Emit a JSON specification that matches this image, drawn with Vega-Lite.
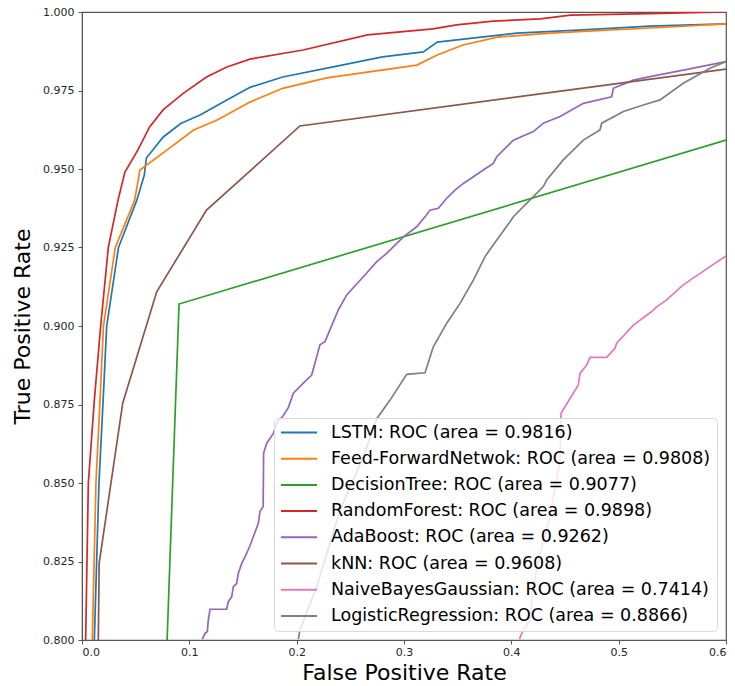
{
  "$schema": "https://vega.github.io/schema/vega-lite/v6.json",
  "autosize": "none",
  "width": 644,
  "height": 628,
  "padding": {"left": 82, "top": 12, "right": 9, "bottom": 46},
  "background": "white",
  "datasets": {
    "names": [
      {"model": "LSTM", "label": "LSTM: ROC (area = 0.9816)"},
      {"model": "FF", "label": "Feed-ForwardNetwok: ROC (area = 0.9808)"},
      {"model": "DT", "label": "DecisionTree: ROC (area = 0.9077)"},
      {"model": "RF", "label": "RandomForest: ROC (area = 0.9898)"},
      {"model": "AB", "label": "AdaBoost: ROC (area = 0.9262)"},
      {"model": "KNN", "label": "kNN: ROC (area = 0.9608)"},
      {"model": "NB", "label": "NaiveBayesGaussian: ROC (area = 0.7414)"},
      {"model": "LR", "label": "LogisticRegression: ROC (area = 0.8866)"}
    ],
    "roc": [
      {"model": "LSTM", "fpr": 0.0115, "tpr": 0.8},
      {"model": "LSTM", "fpr": 0.0158, "tpr": 0.85},
      {"model": "LSTM", "fpr": 0.0197, "tpr": 0.8764},
      {"model": "LSTM", "fpr": 0.023, "tpr": 0.9},
      {"model": "LSTM", "fpr": 0.034, "tpr": 0.925},
      {"model": "LSTM", "fpr": 0.051, "tpr": 0.94},
      {"model": "LSTM", "fpr": 0.058, "tpr": 0.948},
      {"model": "LSTM", "fpr": 0.06, "tpr": 0.9535},
      {"model": "LSTM", "fpr": 0.0757, "tpr": 0.9602},
      {"model": "LSTM", "fpr": 0.092, "tpr": 0.9645},
      {"model": "LSTM", "fpr": 0.11, "tpr": 0.9672},
      {"model": "LSTM", "fpr": 0.135, "tpr": 0.972},
      {"model": "LSTM", "fpr": 0.1565, "tpr": 0.976},
      {"model": "LSTM", "fpr": 0.187, "tpr": 0.9793},
      {"model": "LSTM", "fpr": 0.234, "tpr": 0.9825},
      {"model": "LSTM", "fpr": 0.28, "tpr": 0.9857},
      {"model": "LSTM", "fpr": 0.318, "tpr": 0.9873},
      {"model": "LSTM", "fpr": 0.331, "tpr": 0.9904},
      {"model": "LSTM", "fpr": 0.405, "tpr": 0.9933},
      {"model": "LSTM", "fpr": 0.467, "tpr": 0.9943},
      {"model": "LSTM", "fpr": 0.529, "tpr": 0.9955},
      {"model": "LSTM", "fpr": 0.6, "tpr": 0.9962},
      {"model": "FF", "fpr": 0.0096, "tpr": 0.8},
      {"model": "FF", "fpr": 0.013, "tpr": 0.85},
      {"model": "FF", "fpr": 0.0168, "tpr": 0.8764},
      {"model": "FF", "fpr": 0.02, "tpr": 0.9},
      {"model": "FF", "fpr": 0.031, "tpr": 0.925},
      {"model": "FF", "fpr": 0.049, "tpr": 0.94},
      {"model": "FF", "fpr": 0.054, "tpr": 0.9497},
      {"model": "FF", "fpr": 0.079, "tpr": 0.956},
      {"model": "FF", "fpr": 0.104, "tpr": 0.9624},
      {"model": "FF", "fpr": 0.126, "tpr": 0.9656},
      {"model": "FF", "fpr": 0.1565, "tpr": 0.9713},
      {"model": "FF", "fpr": 0.187, "tpr": 0.9757},
      {"model": "FF", "fpr": 0.228, "tpr": 0.979},
      {"model": "FF", "fpr": 0.312, "tpr": 0.9831},
      {"model": "FF", "fpr": 0.331, "tpr": 0.9863},
      {"model": "FF", "fpr": 0.355, "tpr": 0.9895},
      {"model": "FF", "fpr": 0.387, "tpr": 0.992},
      {"model": "FF", "fpr": 0.436, "tpr": 0.9933},
      {"model": "FF", "fpr": 0.529, "tpr": 0.9949},
      {"model": "FF", "fpr": 0.6, "tpr": 0.9962},
      {"model": "DT", "fpr": 0.0793, "tpr": 0.8},
      {"model": "DT", "fpr": 0.0904, "tpr": 0.907},
      {"model": "DT", "fpr": 0.6, "tpr": 0.9592},
      {"model": "RF", "fpr": 0.0034, "tpr": 0.8},
      {"model": "RF", "fpr": 0.0059, "tpr": 0.85},
      {"model": "RF", "fpr": 0.0115, "tpr": 0.8764},
      {"model": "RF", "fpr": 0.0174, "tpr": 0.9},
      {"model": "RF", "fpr": 0.0245, "tpr": 0.925},
      {"model": "RF", "fpr": 0.0335, "tpr": 0.94},
      {"model": "RF", "fpr": 0.04, "tpr": 0.949},
      {"model": "RF", "fpr": 0.052, "tpr": 0.956},
      {"model": "RF", "fpr": 0.063, "tpr": 0.9634},
      {"model": "RF", "fpr": 0.0755, "tpr": 0.9688},
      {"model": "RF", "fpr": 0.094, "tpr": 0.974},
      {"model": "RF", "fpr": 0.116, "tpr": 0.9793},
      {"model": "RF", "fpr": 0.135, "tpr": 0.9825},
      {"model": "RF", "fpr": 0.1565, "tpr": 0.985},
      {"model": "RF", "fpr": 0.206, "tpr": 0.9879},
      {"model": "RF", "fpr": 0.266, "tpr": 0.9927},
      {"model": "RF", "fpr": 0.327, "tpr": 0.9946},
      {"model": "RF", "fpr": 0.349, "tpr": 0.9959},
      {"model": "RF", "fpr": 0.383, "tpr": 0.9971},
      {"model": "RF", "fpr": 0.427, "tpr": 0.9978},
      {"model": "RF", "fpr": 0.455, "tpr": 0.999},
      {"model": "RF", "fpr": 0.529, "tpr": 0.9995},
      {"model": "RF", "fpr": 0.6, "tpr": 1.0},
      {"model": "AB", "fpr": 0.1121, "tpr": 0.8003},
      {"model": "AB", "fpr": 0.1146, "tpr": 0.8021},
      {"model": "AB", "fpr": 0.1168, "tpr": 0.8027},
      {"model": "AB", "fpr": 0.1177, "tpr": 0.8064},
      {"model": "AB", "fpr": 0.1193, "tpr": 0.8098},
      {"model": "AB", "fpr": 0.1348, "tpr": 0.8098},
      {"model": "AB", "fpr": 0.1363, "tpr": 0.8122},
      {"model": "AB", "fpr": 0.1395, "tpr": 0.8138},
      {"model": "AB", "fpr": 0.141, "tpr": 0.817},
      {"model": "AB", "fpr": 0.1441, "tpr": 0.818},
      {"model": "AB", "fpr": 0.1456, "tpr": 0.8212},
      {"model": "AB", "fpr": 0.1488, "tpr": 0.8244},
      {"model": "AB", "fpr": 0.1519, "tpr": 0.8265},
      {"model": "AB", "fpr": 0.1565, "tpr": 0.83},
      {"model": "AB", "fpr": 0.1596, "tpr": 0.8329},
      {"model": "AB", "fpr": 0.1643, "tpr": 0.8372},
      {"model": "AB", "fpr": 0.1658, "tpr": 0.8409},
      {"model": "AB", "fpr": 0.1688, "tpr": 0.8425},
      {"model": "AB", "fpr": 0.1692, "tpr": 0.8595},
      {"model": "AB", "fpr": 0.172, "tpr": 0.8626},
      {"model": "AB", "fpr": 0.1783, "tpr": 0.8658},
      {"model": "AB", "fpr": 0.1814, "tpr": 0.869},
      {"model": "AB", "fpr": 0.1876, "tpr": 0.8715},
      {"model": "AB", "fpr": 0.1922, "tpr": 0.874},
      {"model": "AB", "fpr": 0.1969, "tpr": 0.8786},
      {"model": "AB", "fpr": 0.2062, "tpr": 0.8818},
      {"model": "AB", "fpr": 0.214, "tpr": 0.8844},
      {"model": "AB", "fpr": 0.2217, "tpr": 0.894},
      {"model": "AB", "fpr": 0.2264, "tpr": 0.895},
      {"model": "AB", "fpr": 0.2342, "tpr": 0.9014},
      {"model": "AB", "fpr": 0.2388, "tpr": 0.9051},
      {"model": "AB", "fpr": 0.2466, "tpr": 0.9099},
      {"model": "AB", "fpr": 0.2621, "tpr": 0.9157},
      {"model": "AB", "fpr": 0.2746, "tpr": 0.9205},
      {"model": "AB", "fpr": 0.2839, "tpr": 0.9231},
      {"model": "AB", "fpr": 0.2994, "tpr": 0.9284},
      {"model": "AB", "fpr": 0.3118, "tpr": 0.9316},
      {"model": "AB", "fpr": 0.3211, "tpr": 0.9354},
      {"model": "AB", "fpr": 0.3242, "tpr": 0.9369},
      {"model": "AB", "fpr": 0.332, "tpr": 0.9375},
      {"model": "AB", "fpr": 0.3398, "tpr": 0.9407},
      {"model": "AB", "fpr": 0.3475, "tpr": 0.9433},
      {"model": "AB", "fpr": 0.3553, "tpr": 0.9454},
      {"model": "AB", "fpr": 0.3739, "tpr": 0.9497},
      {"model": "AB", "fpr": 0.3832, "tpr": 0.9518},
      {"model": "AB", "fpr": 0.3864, "tpr": 0.9539},
      {"model": "AB", "fpr": 0.4019, "tpr": 0.9592},
      {"model": "AB", "fpr": 0.4205, "tpr": 0.9619},
      {"model": "AB", "fpr": 0.4298, "tpr": 0.9646},
      {"model": "AB", "fpr": 0.4454, "tpr": 0.9667},
      {"model": "AB", "fpr": 0.4671, "tpr": 0.9709},
      {"model": "AB", "fpr": 0.4935, "tpr": 0.973},
      {"model": "AB", "fpr": 0.495, "tpr": 0.9757},
      {"model": "AB", "fpr": 0.5137, "tpr": 0.9783},
      {"model": "AB", "fpr": 0.5292, "tpr": 0.9794},
      {"model": "AB", "fpr": 0.5602, "tpr": 0.9815},
      {"model": "AB", "fpr": 0.6, "tpr": 0.9842},
      {"model": "KNN", "fpr": 0.0152, "tpr": 0.8},
      {"model": "KNN", "fpr": 0.016, "tpr": 0.8245},
      {"model": "KNN", "fpr": 0.038, "tpr": 0.8755},
      {"model": "KNN", "fpr": 0.0696, "tpr": 0.9109},
      {"model": "KNN", "fpr": 0.116, "tpr": 0.9369},
      {"model": "KNN", "fpr": 0.203, "tpr": 0.9637},
      {"model": "KNN", "fpr": 0.6, "tpr": 0.9818},
      {"model": "NB", "fpr": 0.4075, "tpr": 0.8003},
      {"model": "NB", "fpr": 0.4097, "tpr": 0.8021},
      {"model": "NB", "fpr": 0.4174, "tpr": 0.8064},
      {"model": "NB", "fpr": 0.4205, "tpr": 0.817},
      {"model": "NB", "fpr": 0.4267, "tpr": 0.8276},
      {"model": "NB", "fpr": 0.436, "tpr": 0.8393},
      {"model": "NB", "fpr": 0.4454, "tpr": 0.8573},
      {"model": "NB", "fpr": 0.4463, "tpr": 0.8722},
      {"model": "NB", "fpr": 0.4624, "tpr": 0.8812},
      {"model": "NB", "fpr": 0.464, "tpr": 0.8849},
      {"model": "NB", "fpr": 0.4702, "tpr": 0.8876},
      {"model": "NB", "fpr": 0.4733, "tpr": 0.89},
      {"model": "NB", "fpr": 0.4888, "tpr": 0.89},
      {"model": "NB", "fpr": 0.4966, "tpr": 0.8929},
      {"model": "NB", "fpr": 0.4981, "tpr": 0.8945},
      {"model": "NB", "fpr": 0.5137, "tpr": 0.9003},
      {"model": "NB", "fpr": 0.5308, "tpr": 0.9046},
      {"model": "NB", "fpr": 0.5354, "tpr": 0.9061},
      {"model": "NB", "fpr": 0.5447, "tpr": 0.9083},
      {"model": "NB", "fpr": 0.5602, "tpr": 0.9131},
      {"model": "NB", "fpr": 0.5851, "tpr": 0.9189},
      {"model": "NB", "fpr": 0.6, "tpr": 0.9223},
      {"model": "LR", "fpr": 0.2016, "tpr": 0.8003},
      {"model": "LR", "fpr": 0.203, "tpr": 0.8032},
      {"model": "LR", "fpr": 0.2187, "tpr": 0.817},
      {"model": "LR", "fpr": 0.2404, "tpr": 0.8414},
      {"model": "LR", "fpr": 0.2621, "tpr": 0.8584},
      {"model": "LR", "fpr": 0.2746, "tpr": 0.8705},
      {"model": "LR", "fpr": 0.287, "tpr": 0.8764},
      {"model": "LR", "fpr": 0.3025, "tpr": 0.8846},
      {"model": "LR", "fpr": 0.3196, "tpr": 0.8851},
      {"model": "LR", "fpr": 0.3273, "tpr": 0.8934},
      {"model": "LR", "fpr": 0.3398, "tpr": 0.9009},
      {"model": "LR", "fpr": 0.3522, "tpr": 0.9072},
      {"model": "LR", "fpr": 0.3646, "tpr": 0.9146},
      {"model": "LR", "fpr": 0.3755, "tpr": 0.9221},
      {"model": "LR", "fpr": 0.3864, "tpr": 0.9274},
      {"model": "LR", "fpr": 0.3988, "tpr": 0.9332},
      {"model": "LR", "fpr": 0.4019, "tpr": 0.9348},
      {"model": "LR", "fpr": 0.4205, "tpr": 0.9412},
      {"model": "LR", "fpr": 0.4298, "tpr": 0.9444},
      {"model": "LR", "fpr": 0.4329, "tpr": 0.9465},
      {"model": "LR", "fpr": 0.4484, "tpr": 0.9529},
      {"model": "LR", "fpr": 0.4671, "tpr": 0.9592},
      {"model": "LR", "fpr": 0.4826, "tpr": 0.9624},
      {"model": "LR", "fpr": 0.4842, "tpr": 0.9646},
      {"model": "LR", "fpr": 0.5044, "tpr": 0.9683},
      {"model": "LR", "fpr": 0.523, "tpr": 0.9704},
      {"model": "LR", "fpr": 0.5385, "tpr": 0.972},
      {"model": "LR", "fpr": 0.5602, "tpr": 0.9773},
      {"model": "LR", "fpr": 0.5851, "tpr": 0.9821},
      {"model": "LR", "fpr": 0.6, "tpr": 0.9842}
    ]
  },
  "data": {"name": "roc"},
  "transform": [
    {"lookup": "model", "from": {"data": {"name": "names"}, "key": "model", "fields": ["label"]}}
  ],
  "mark": {"type": "line", "clip": true, "strokeWidth": 1.7},
  "encoding": {
    "x": {
      "field": "fpr",
      "type": "quantitative",
      "scale": {"domain": [0, 0.6], "nice": false, "zero": false},
      "axis": {
        "title": "False Positive Rate",
        "values": [0, 0.1, 0.2, 0.3, 0.4, 0.5, 0.6],
        "format": ".1f",
        "labelPadding": 2,
        "titlePadding": 5
      }
    },
    "y": {
      "field": "tpr",
      "type": "quantitative",
      "scale": {"domain": [0.8, 1.0], "nice": false, "zero": false},
      "axis": {
        "title": "True Positive Rate",
        "values": [0.8, 0.825, 0.85, 0.875, 0.9, 0.925, 0.95, 0.975, 1.0],
        "format": ".3f",
        "labelPadding": 4,
        "titlePadding": 8
      }
    },
    "color": {
      "field": "label",
      "type": "nominal",
      "scale": {
        "domain": [
          "LSTM: ROC (area = 0.9816)",
          "Feed-ForwardNetwok: ROC (area = 0.9808)",
          "DecisionTree: ROC (area = 0.9077)",
          "RandomForest: ROC (area = 0.9898)",
          "AdaBoost: ROC (area = 0.9262)",
          "kNN: ROC (area = 0.9608)",
          "NaiveBayesGaussian: ROC (area = 0.7414)",
          "LogisticRegression: ROC (area = 0.8866)"
        ],
        "range": ["#1f77b4", "#ff7f0e", "#2ca02c", "#d62728", "#9467bd", "#8c564b", "#e377c2", "#7f7f7f"]
      },
      "legend": {
        "title": null,
        "orient": "bottom-right",
        "offset": 9,
        "symbolType": "stroke",
        "symbolSize": 1296,
        "symbolStrokeWidth": 2,
        "labelFontSize": 17.5,
        "labelOffset": 13,
        "labelLimit": 500,
        "clipHeight": 17,
        "rowPadding": 8.2,
        "padding": 6,
        "fillColor": "rgba(255,255,255,0.8)",
        "strokeColor": "#d9d9d9",
        "cornerRadius": 4
      }
    }
  },
  "config": {
    "font": "DejaVu Sans",
    "view": {"stroke": "#555", "strokeWidth": 1.2},
    "axis": {
      "grid": false,
      "labelFont": "DejaVu Sans",
      "labelFontSize": 11,
      "labelColor": "#262626",
      "tickColor": "#555",
      "tickSize": 4,
      "domainColor": "#555",
      "titleFont": "DejaVu Sans",
      "titleFontSize": 22,
      "titleFontWeight": "normal",
      "titleColor": "#000"
    },
    "legend": {"labelFont": "DejaVu Sans", "labelColor": "#000"}
  }
}
